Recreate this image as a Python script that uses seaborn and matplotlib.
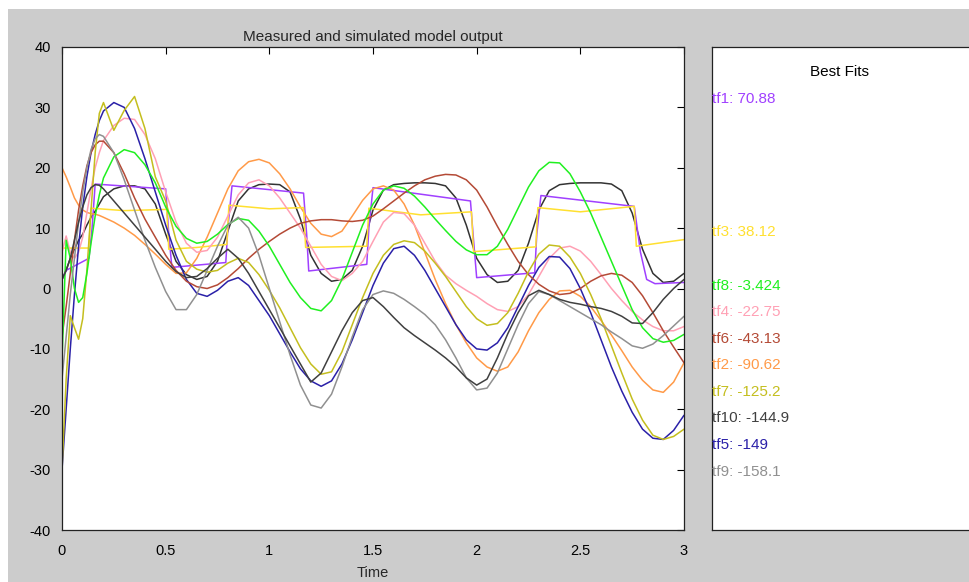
import numpy as np
import pandas as pd
import matplotlib
matplotlib.use("Agg")
import matplotlib.pyplot as plt
from matplotlib.patches import Rectangle
import seaborn as sns

# ---------------- data ----------------
T = [0, .02, .04, .06, .08, .10, .12, .14, .16, .18, .20,
     .25, .30, .35, .40, .45, .50, .55, .60, .65, .70, .75, .80, .85, .90, .95,
     1.0, 1.05, 1.1, 1.15, 1.2, 1.25, 1.3, 1.35, 1.4, 1.45, 1.5, 1.55, 1.6, 1.65,
     1.7, 1.75, 1.8, 1.85, 1.9, 1.95, 2.0, 2.05, 2.1, 2.15, 2.2, 2.25, 2.3, 2.35,
     2.4, 2.45, 2.5, 2.55, 2.6, 2.65, 2.7, 2.75, 2.8, 2.85, 2.9, 2.95, 3.0]

measured = [1.5, 3, 5, 6.5, 8, 9, 10.5, 11.8, 12.8, 14, 15.2,
            16.5, 17, 17, 16.5, 14, 9, 4.5, 2.3, 1.5, 2, 4.5, 9.5, 14.5, 16.5, 17.2,
            17.3, 17.2, 16, 11.5, 5.5, 2.5, 1.2, 1.5, 3, 7, 13, 16.3, 17.2, 17.4,
            17.5, 17.5, 17.4, 17, 15, 10.5, 5, 2.3, 1, 1.2, 3, 7.5, 13, 16.2,
            17.2, 17.4, 17.5, 17.5, 17.5, 17.3, 16.2, 12.5, 6.5, 2.5, 1, 1.2, 2.5]

tf8 = [-12, 8, 5, 0, -2.3, -1.5, 2.5, 7.5, 12, 15.5, 18.3,
       21.8, 23, 22.5, 20.5, 17.5, 13.5, 10.3, 8.3, 7.5, 7.8, 9, 10.6, 11.6, 11.3, 9.5,
       7, 4, 1, -1.5, -3.3, -3.7, -2, 1.5, 6, 10.5, 14, 16.3, 17, 16.6,
       15.3, 13.5, 11.5, 9.6, 7.8, 6.4, 5.6, 5.6, 7, 9.8, 13.3, 16.8, 19.5, 20.9,
       20.8, 19, 16, 12.5, 8.5, 4.5, 0.5, -3.5, -6.5, -8.3, -8.9, -8.6, -7.6]

tf4 = [6, 8.7, 6, 5, 6, 8.5, 12.5, 16.5, 20, 22.5, 24.5,
       27, 28.2, 28, 25.5, 21.5, 16, 11, 7.5, 6, 6.3, 8.5, 12, 15.5, 17.5, 18,
       17, 15, 12.5, 10, 7, 4, 2, 1.3, 2.5, 4.5, 7.8, 11, 12.6, 12.4,
       10.5, 7.5, 4.5, 2.2, 0.8, -0.3, -1.3, -2.5, -3.5, -3.8, -3, -1, 2, 5,
       6.7, 7, 6.2, 4.5, 2.3, 0, -2, -3.8, -5.2, -6.3, -7, -7, -6.3]

tf6 = [-8, -3, 2.5, 8, 13, 17, 20.3, 22.5, 23.8, 24.4, 24.4,
       22.5, 19, 15, 11.5, 8.5, 5.5, 3, 1.2, 0.3, 0, 0.6, 1.8, 3.3, 5, 6.5,
       7.8, 9, 10, 10.8, 11.2, 11.4, 11.4, 11.2, 11.1, 11.3, 12, 13.2, 14.5, 15.8,
       17, 18, 18.6, 18.9, 18.8, 18, 16.3, 13.5, 10.3, 7.3, 4.5, 2.3, 0.7, -0.4,
       -1, -0.8, 0, 1.2, 2.1, 2.5, 2.2, 1, -1.2, -4, -7, -9.7, -12.3]

tf2 = [20, 18.5, 16.8, 15, 13.8, 13, 12.6, 12.4, 12.3, 12.1, 11.8,
       11, 10, 8.8, 7.3, 5.7, 4, 2.5, 2.6, 5, 8.5, 12.5, 16.5, 19.5, 21, 21.4,
       20.8, 19, 16.5, 13.5, 10.8, 9, 8.6, 9.5, 12, 14.6, 16.5, 17, 16.3, 14,
       10.5, 6, 1.5, -2.5, -6, -9, -11.5, -13, -13.7, -13, -10.5, -7, -4, -1.8,
       -0.4, -0.3, -1.3, -3, -5.3, -7.7, -10.3, -13, -15.2, -16.8, -17.2, -15.5, -12.3]

tf7 = [-30, -15, -4.5, -6.5, -8.4, -5, 3, 13, 22.5, 29, 30.8,
       26.2, 29.5, 31.8, 26.5, 18.5, 14.5, 8, 4.5, 3.2, 2.7, 3, 4.2, 5, 4.3, 2.3,
       -0.3, -3.2, -6.5, -9.8, -12.5, -14.2, -13.8, -10.5, -6, -1.5, 2.5, 5.5, 7.3, 7.9,
       7.6, 6.2, 4.2, 2, -0.5, -3, -5, -6.1, -5.8, -4, -0.8, 2.8, 5.7, 7.2,
       7, 5.2, 2.5, -1, -5, -9.5, -14, -18.3, -21.8, -24.3, -25, -24.5, -23.3]

tf10 = [1.5, 3, 5, 8, 11, 13.5, 15.5, 16.7, 17.2, 17.1, 16.5,
        14.5, 12.5, 10.5, 8.5, 6.5, 4.5, 2.8, 1.8, 2, 3.3, 5, 6.5, 5, 2.5, -0.5,
        -3.5, -6.5, -9.5, -12.5, -15.5, -14, -10.5, -7, -4, -2, -1.5, -3, -4.8, -6.5,
        -7.8, -9, -10.2, -11.5, -13, -14.8, -16, -15, -11.5, -7.5, -4, -1.2, -0.3, -1,
        -1.8, -2.3, -2.6, -3, -3.3, -3.8, -4.6, -5.7, -5.8, -4, -1.8, 0, 1.5]

tf5 = [-30, -20, -10, -1, 7, 13.5, 18.5, 22.5, 25.5, 27.8, 29.4,
       30.8, 30, 26.5, 21.5, 16, 10.5, 5.5, 1.5, -0.8, -1.3, -0.3, 1.2, 1.8, 0.5, -2,
       -4.5, -7.5, -10.5, -13.3, -15.3, -16.2, -15.3, -12.5, -8.5, -4, 0.5, 4.2, 6.6, 7,
       5.5, 3, 0, -3, -6, -8.5, -10, -10.2, -9, -6.5, -3, 0.5, 3.5, 5.3,
       5.2, 3.3, 0, -4, -8.5, -13, -17, -20.5, -23.3, -24.8, -25, -23.5, -21]

tf9 = [-15, -8, -1, 5, 11, 16, 20, 23, 24.8, 25.5, 25.2,
       22.5, 18, 13, 8, 3.5, -0.5, -3.5, -3.5, -1, 3, 7, 10.5, 11.8, 10, 5.5,
       0, -5.5, -11, -16, -19.3, -19.8, -17.5, -13, -8, -3.5, -1, -0.4, -0.8, -1.8,
       -3, -4.3, -6, -8.5, -11.5, -14.8, -16.8, -16.5, -14, -10, -6, -2.5, -0.5, -1,
       -2, -3, -4, -5, -6, -7.2, -8.3, -9.5, -9.9, -9.2, -7.8, -6.2, -4.6]

# step-like models
t_tf1 = [0, 0.02, 0.13, 0.145, 0.16, 0.5, 0.515, 0.53, 0.79, 0.80, 0.82, 1.165, 1.18,
         1.19, 1.47, 1.48, 1.50, 1.97, 1.985, 2.0, 2.28, 2.29, 2.31, 2.76, 2.79,
         2.82, 2.86, 3.0]
tf1 = [1.5, 3, 5, 10, 17.3, 16.5, 9, 3.5, 4.3, 10, 17, 15.8, 9,
       2.9, 4, 10, 16.7, 14.5, 8, 1.8, 2.6, 9, 15.4, 13.6, 6,
       1.5, 0.8, 1.0]

t_tf3 = [0, 0.13, 0.14, 0.3, 0.505, 0.515, 0.65, 0.795, 0.805, 1.0, 1.165, 1.175,
         1.47, 1.48, 1.73, 1.975, 1.985, 2.285, 2.295, 2.5, 2.76, 2.77, 3.0]
tf3 = [6.7, 6.7, 13.3, 12.9, 13.1, 6.5, 6.8, 7.3, 13.8, 13.2, 13.4, 6.8,
       7.0, 13.3, 12.2, 12.7, 6.1, 6.9, 13.4, 12.7, 13.6, 7.0, 8.1]

fit_names = ["tf1", "tf3", "tf8", "tf4", "tf6", "tf2", "tf7", "tf10", "tf5", "tf9"]
fit_values = ["70.88", "38.12", "-3.424", "-22.75", "-43.13", "-90.62", "-125.2",
              "-144.9", "-149", "-158.1"]
fit_label_y = [99, 232, 286, 312, 339, 365, 392, 418, 445, 472]  # pixel rows

colors = {
    "measured": "#000000",
    "tf1": "#A040FF",
    "tf2": "#FF9A48",
    "tf3": "#FFE030",
    "tf4": "#FFA0B4",
    "tf5": "#2A20A8",
    "tf6": "#B44A36",
    "tf7": "#C4BE1E",
    "tf8": "#20F020",
    "tf9": "#909090",
    "tf10": "#404040",
}

x_ticks = [0, 0.5, 1, 1.5, 2, 2.5, 3]
y_ticks = [-40, -30, -20, -10, 0, 10, 20, 30, 40]

# ---------------- figure ----------------
sns.set_style("white")
plt.rcParams["font.family"] = ["Liberation Sans", "DejaVu Sans"]

W, H = 969, 582
fig = plt.figure(figsize=(W / 100, H / 100), dpi=100)
fig.patch.set_facecolor("#cccccc")
fig.patches.append(Rectangle((0, 1 - 9 / H), 1, 9 / H, transform=fig.transFigure,
                             facecolor="white", edgecolor="none", zorder=-1))
fig.patches.append(Rectangle((0, 0), 8 / W, 1, transform=fig.transFigure,
                             facecolor="white", edgecolor="none", zorder=-1))

def px_axes(l, t, r, b):
    return [l / W, 1 - b / H, (r - l) / W, (b - t) / H]

ax = fig.add_axes(px_axes(62, 47, 684, 530))
ax.set_facecolor("white")

series = [("measured", T, measured), ("tf1", t_tf1, tf1), ("tf2", T, tf2),
          ("tf3", t_tf3, tf3), ("tf4", T, tf4), ("tf5", T, tf5), ("tf6", T, tf6),
          ("tf7", T, tf7), ("tf8", T, tf8), ("tf9", T, tf9), ("tf10", T, tf10)]

for name, tt, vv in series:
    df = pd.DataFrame({"Time": tt, "y": vv})
    sns.lineplot(data=df, x="Time", y="y", ax=ax, color=colors[name],
                 estimator=None, sort=False, linewidth=1.1,
                 alpha=0.8 if name == "measured" else 1.0)

ax.set_xlim(0, 3)
ax.set_ylim(-40, 40)
ax.set_xticks(x_ticks)
ax.set_xticklabels([f"{v:g}" for v in x_ticks])
ax.set_yticks(y_ticks)
ax.set_yticklabels([f"{v:g}" for v in y_ticks])
ax.tick_params(direction="in", length=5, width=0.8, colors="black",
               labelsize=10.5, top=True, right=True)
ax.tick_params(axis="x", pad=10)
ax.tick_params(axis="y", pad=8)
ax.set_xlabel("Time", fontsize=10.5, labelpad=6)
ax.set_ylabel("")
ax.set_title("Measured and simulated model output", fontsize=11, pad=4)
for s in ax.spines.values():
    s.set_visible(True)
    s.set_color("#222222")
    s.set_linewidth(0.9)

# Best fits panel
ax2 = fig.add_axes(px_axes(712, 47, 980, 530))
ax2.set_facecolor("white")
ax2.set_xticks([])
ax2.set_yticks([])
for s in ax2.spines.values():
    s.set_color("#222222")
    s.set_linewidth(0.9)
ax2.set_xlim(0, 1)
ax2.set_ylim(0, 1)
ax2.text(128 / 268, (530 - 72) / 483, "Best Fits", ha="center", va="center",
         fontsize=11, color="black")
for name, val, ypx in zip(fit_names, fit_values, fit_label_y):
    ax2.text(0.0, (530 - ypx) / 483, f"{name}: {val}", ha="left", va="center",
             fontsize=11, color=colors[name])

fig.savefig("out.png", dpi=100, facecolor=fig.get_facecolor())
